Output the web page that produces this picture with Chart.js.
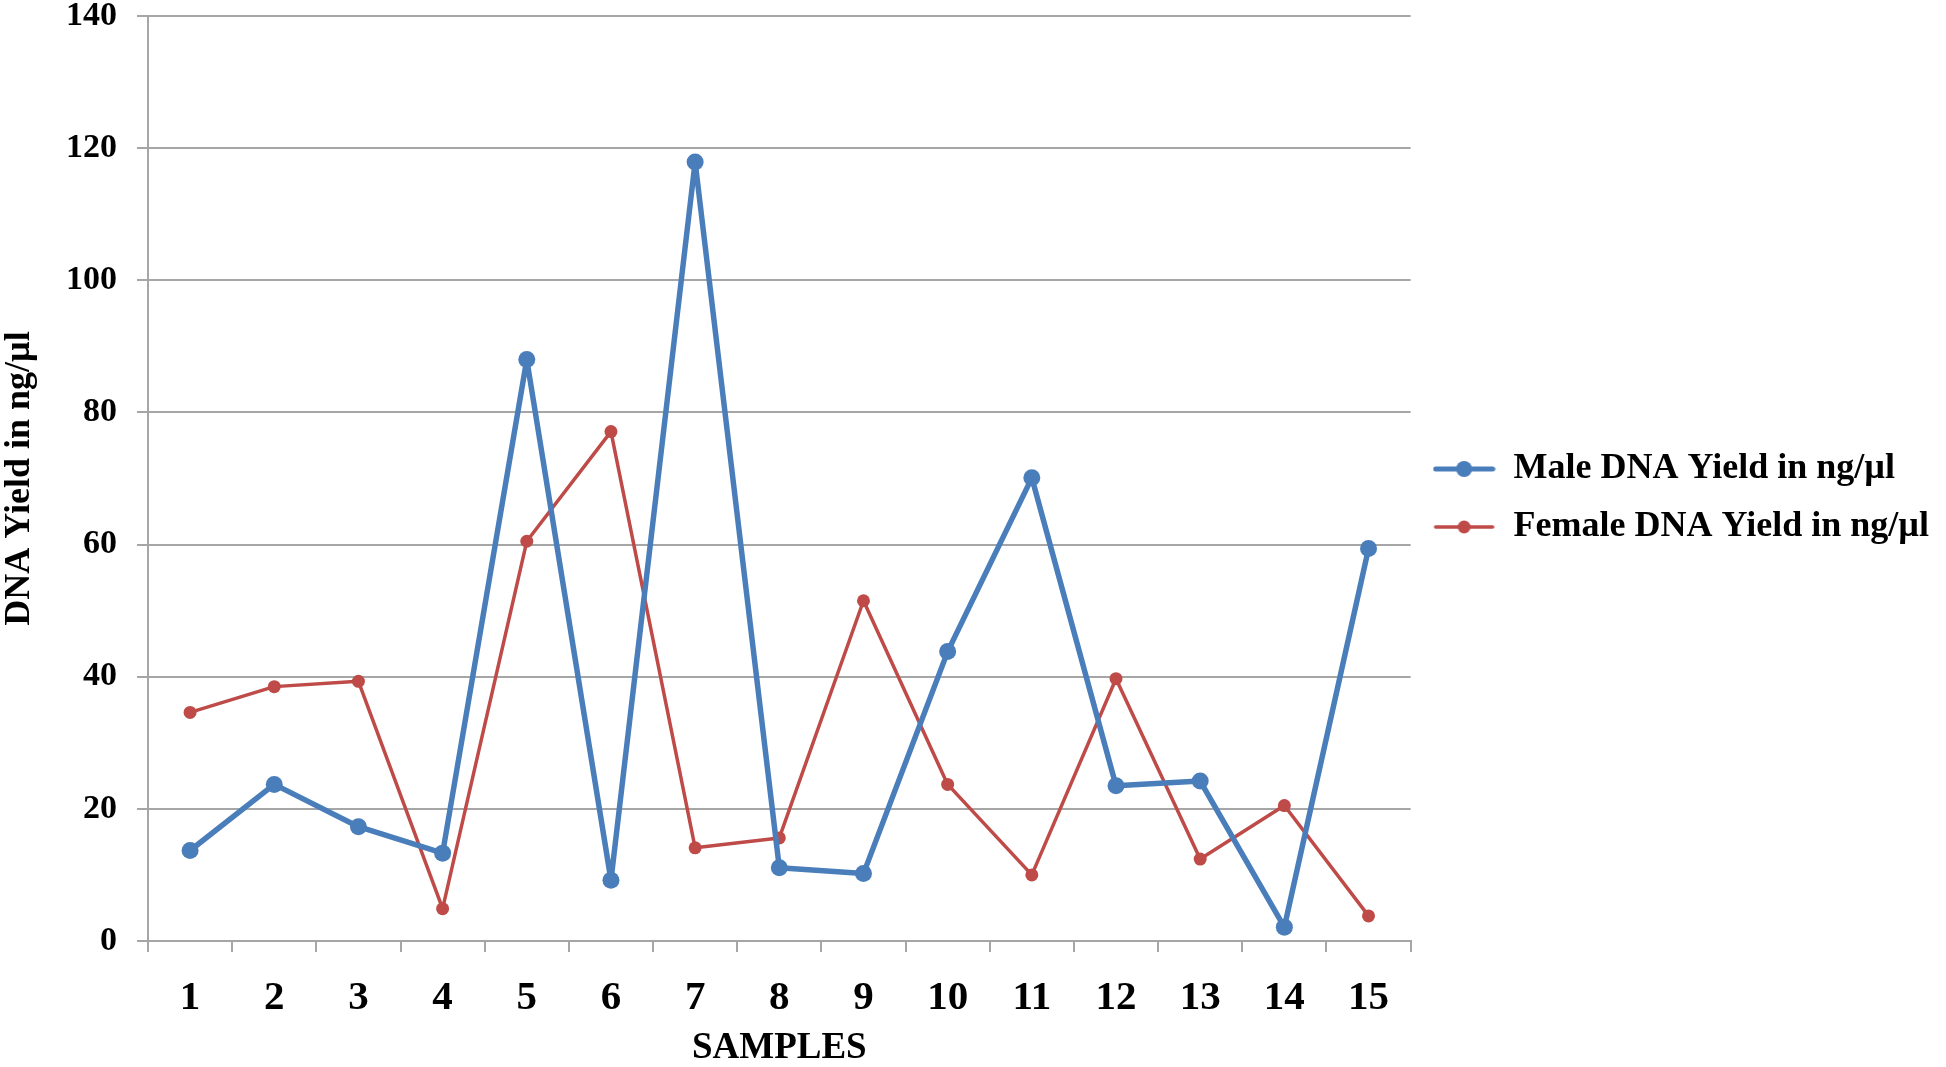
<!DOCTYPE html>
<html>
<head>
<meta charset="utf-8">
<script src="https://cdn.jsdelivr.net/npm/chart.js@4.4.1/dist/chart.umd.min.js"></script>
<style>
  html, body { margin: 0; padding: 0; background: #fff; }
</style>
</head>
<body>
<canvas id="dnaChart" width="1946" height="1067"></canvas>
<script>
// --- data ---
const samples = ['1', '2', '3', '4', '5', '6', '7', '8', '9', '10', '11', '12', '13', '14', '15'];
const maleYield = [13.7, 23.7, 17.3, 13.3, 88.0, 9.2, 117.9, 11.1, 10.2, 43.8, 70.1, 23.5, 24.2, 2.1, 59.4];
const femaleYield = [34.6, 38.5, 39.3, 4.9, 60.5, 77.1, 14.1, 15.6, 51.5, 23.7, 10.0, 39.7, 12.4, 20.5, 3.8];
const yMin = 0, yMax = 140, yStep = 20;

const BLUE = '#4a7ebb';
const RED = '#be4b48';
const GRID = '#a6a6a6';
const FONT = '"Liberation Serif", "Times New Roman", serif';

// legend marker: line with a dot in the middle
function legendMarker(color, lineW, radius) {
    const c = document.createElement('canvas');
    c.width = 63;
    c.height = 24;
    const g = c.getContext('2d');
    g.strokeStyle = color;
    g.lineWidth = lineW;
    g.lineCap = 'round';
    g.beginPath();
    g.moveTo(3, 12);
    g.lineTo(60, 12);
    g.stroke();
    g.fillStyle = color;
    g.beginPath();
    g.arc(31.5, 12, radius, 0, Math.PI * 2);
    g.fill();
    return c;
}
const markers = [legendMarker(BLUE, 5, 8), legendMarker(RED, 3.5, 6.5)];

new Chart(document.getElementById('dnaChart'), {
    type: 'line',
    data: {
        labels: samples,
        datasets: [{
            label: 'Male DNA Yield in ng/µl',
            data: maleYield,
            borderColor: BLUE,
            backgroundColor: BLUE,
            borderWidth: 5.5,
            borderJoinStyle: 'round',
            pointRadius: 8.5,
            pointBorderWidth: 0,
            tension: 0
        }, {
            label: 'Female DNA Yield in ng/µl',
            data: femaleYield,
            borderColor: RED,
            backgroundColor: RED,
            borderWidth: 3.5,
            borderJoinStyle: 'round',
            pointRadius: 6.5,
            pointBorderWidth: 0,
            tension: 0
        }]
    },
    options: {
        responsive: false,
        animation: false,
        layout: { padding: { top: 0, right: 7, bottom: 0, left: 0 } },
        scales: {
            x: {
                offset: true,
                grid: {
                    offset: true,
                    drawOnChartArea: false,
                    drawTicks: true,
                    tickLength: 11,
                    color: GRID,
                    lineWidth: 2
                },
                border: { color: GRID, width: 2 },
                ticks: {
                    color: '#000',
                    padding: 26,
                    maxRotation: 0,
                    font: { family: FONT, size: 41, weight: 'bold', lineHeight: 1.0 }
                },
                title: {
                    display: true,
                    text: 'SAMPLES',
                    color: '#000',
                    padding: { top: 10, bottom: 0 },
                    font: { family: FONT, size: 37, weight: 'bold', lineHeight: 1.0 }
                },
                afterFit: s => { s.height = 126; }
            },
            y: {
                min: yMin,
                max: yMax,
                grid: { color: GRID, lineWidth: 2, tickLength: 11 },
                border: { color: GRID, width: 2 },
                ticks: {
                    stepSize: yStep,
                    color: '#000',
                    padding: 20,
                    font: { family: FONT, size: 34, weight: 'bold', lineHeight: 1.0 }
                },
                title: {
                    display: true,
                    text: 'DNA Yield in ng/µl',
                    color: '#000',
                    padding: { top: 2, bottom: 10 },
                    font: { family: FONT, size: 36, weight: 'bold', lineHeight: 1.0 }
                },
                afterFit: s => { s.width = 148; s.paddingTop = 16; }
            }
        },
        plugins: {
            tooltip: { enabled: false },
            legend: {
                position: 'right',
                fullSize: false,
                maxWidth: 700,
                title: {
                    display: true,
                    text: ' ',
                    padding: { top: 38, bottom: 0 },
                    font: { size: 1, lineHeight: 1 }
                },
                labels: {
                    usePointStyle: true,
                    pointStyleWidth: 63,
                    boxHeight: 24,
                    padding: 22,
                    color: '#000',
                    font: { family: FONT, size: 36, weight: 'bold', lineHeight: 1.1 },
                    generateLabels: chart => Chart.defaults.plugins.legend.labels.generateLabels(chart)
                        .map((item, i) => ({ ...item, pointStyle: markers[i] }))
                }
            }
        }
    }
});
</script>
</body>
</html>
